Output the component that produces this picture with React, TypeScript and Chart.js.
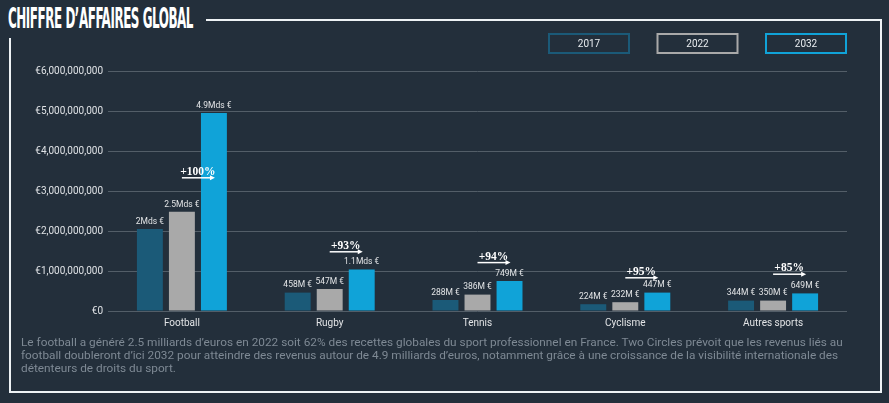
import React, { useEffect, useRef } from "react";
import { Chart, registerables } from "chart.js";

Chart.register(...registerables);

const categories = ["Football", "Rugby", "Tennis", "Cyclisme", "Autres sports"];
const years = ["2017", "2022", "2032"];
const values2017 = [2.05e9, 0.46e9, 0.275e9, 0.17e9, 0.26e9];
const values2022 = [2.48e9, 0.55e9, 0.41e9, 0.22e9, 0.26e9];
const values2032 = [4.95e9, 1.04e9, 0.75e9, 0.46e9, 0.44e9];
const labels2017 = ["2Mds €", "458M €", "288M €", "224M €", "344M €"];
const labels2022 = ["2.5Mds €", "547M €", "386M €", "232M €", "350M €"];
const labels2032 = ["4.9Mds €", "1.1Mds €", "749M €", "447M €", "649M €"];
const growthLabels = ["+100%", "+93%", "+94%", "+95%", "+85%"];
const growthLevels = [3.33e9, 1.48e9, 1.21e9, 0.83e9, 0.92e9];
const yTicks = [0, 1e9, 2e9, 3e9, 4e9, 5e9, 6e9];

const captionLines = [
  "Le football a généré 2.5 milliards d’euros en 2022 soit 62% des recettes globales du sport professionnel en France. Two Circles prévoit que les revenus liés au",
  "football doubleront d’ici 2032 pour atteindre des revenus autour de 4.9 milliards d’euros, notamment grâce à une croissance de la visibilité internationale des",
  "détenteurs de droits du sport.",
];

const BG = "#232f3b";
const COLORS = ["#1b5a78", "#a9a9a9", "#10a3d8"];

const dataLabelsPlugin = {
  id: "barValueLabels",
  afterDatasetsDraw(chart: any) {
    const ctx = chart.ctx;
    const allLabels = [labels2017, labels2022, labels2032];
    ctx.save();
    ctx.font = "8.5px Roboto";
    ctx.fillStyle = "#e2e4e6";
    ctx.textAlign = "center";
    ctx.textBaseline = "bottom";
    chart.data.datasets.forEach((_: any, di: number) => {
      const meta = chart.getDatasetMeta(di);
      meta.data.forEach((bar: any, i: number) => {
        ctx.fillText(allLabels[di][i], bar.x, bar.y - 3);
      });
    });
    const m1 = chart.getDatasetMeta(1);
    const m2 = chart.getDatasetMeta(2);
    const yScale = chart.scales.y;
    growthLabels.forEach((g, i) => {
      const x1 = m1.data[i].x;
      const x2 = m2.data[i].x;
      const y = yScale.getPixelForValue(growthLevels[i]);
      ctx.strokeStyle = "#ffffff";
      ctx.fillStyle = "#ffffff";
      ctx.lineWidth = 1.5;
      ctx.beginPath();
      ctx.moveTo(x1, y);
      ctx.lineTo(x2 - 3, y);
      ctx.stroke();
      ctx.beginPath();
      ctx.moveTo(x2 + 1, y);
      ctx.lineTo(x2 - 4, y - 2.5);
      ctx.lineTo(x2 - 4, y + 2.5);
      ctx.closePath();
      ctx.fill();
      ctx.font = "bold 11.5px 'Liberation Serif'";
      ctx.textAlign = "center";
      ctx.textBaseline = "alphabetic";
      ctx.fillText(g, (x1 + x2) / 2, y - 3);
    });
    ctx.restore();
  },
};

const legendPlugin = {
  id: "boxLegend",
  afterDraw(chart: any) {
    const ctx = chart.ctx;
    const right = chart.chartArea.right;
    const w = 82;
    const h = 21;
    const gap = 26.5;
    const n = chart.data.datasets.length;
    ctx.save();
    chart.data.datasets.forEach((ds: any, i: number) => {
      const x = right - (n - i) * w - (n - 1 - i) * gap;
      const y = 33;
      ctx.strokeStyle = ds.backgroundColor;
      ctx.lineWidth = 2;
      ctx.strokeRect(x + 1, y + 1, w - 2, h - 2);
      ctx.fillStyle = "#e8ecef";
      ctx.font = "10px Roboto";
      ctx.textAlign = "center";
      ctx.textBaseline = "middle";
      ctx.fillText(ds.label, x + w / 2, y + h / 2 + 0.5);
    });
    ctx.restore();
  },
};

export default function App() {
  const canvasRef = useRef<HTMLCanvasElement | null>(null);
  const titleRef = useRef<HTMLSpanElement | null>(null);
  const captionRef = useRef<HTMLDivElement | null>(null);

  useEffect(() => {
    if (titleRef.current) {
      const wdt = titleRef.current.offsetWidth;
      if (wdt > 0) titleRef.current.style.transform = `scaleX(${185 / wdt})`;
    }
    if (captionRef.current) {
      const first = captionRef.current.firstElementChild as HTMLElement | null;
      if (first) {
        const wdt = first.offsetWidth;
        if (wdt > 0) captionRef.current.style.transform = `scaleX(${822 / wdt})`;
      }
    }
    const canvas = canvasRef.current;
    if (!canvas) return;
    const chart = new Chart(canvas, {
      type: "bar",
      data: {
        labels: categories,
        datasets: [
          { label: years[0], data: values2017, backgroundColor: COLORS[0] },
          { label: years[1], data: values2022, backgroundColor: COLORS[1] },
          { label: years[2], data: values2032, backgroundColor: COLORS[2] },
        ].map((d) => ({ ...d, barPercentage: 0.81, categoryPercentage: 0.65, borderWidth: 0 })),
      },
      options: {
        responsive: false,
        animation: false,
        layout: { padding: { left: 0, top: 71, right: 42, bottom: 70 } },
        plugins: { legend: { display: false }, tooltip: { enabled: false }, title: { display: false } },
        scales: {
          x: {
            grid: { display: false, drawTicks: false },
            border: { display: false },
            ticks: { color: "#e2e4e6", font: { family: "Roboto", size: 10 }, padding: 6, maxRotation: 0 },
            afterFit: (s: any) => {
              s.height = 22;
            },
          },
          y: {
            min: 0,
            max: 6e9,
            afterBuildTicks: (s: any) => {
              s.ticks = yTicks.map((v) => ({ value: v }));
            },
            grid: { color: "#535e68", lineWidth: 1, drawTicks: false },
            border: { display: false },
            ticks: {
              color: "#dfe2e5",
              font: { family: "Roboto", size: 10 },
              padding: 5,
              callback: (v: any) => "€" + Number(v).toLocaleString("en-US"),
            },
            afterFit: (s: any) => {
              s.width = 108;
            },
          },
        },
      },
      plugins: [dataLabelsPlugin, legendPlugin],
    });
    return () => chart.destroy();
  }, []);

  const line = (style: React.CSSProperties) => (
    <div style={{ position: "absolute", background: "#eef2f5", ...style }} />
  );

  return (
    <div
      style={{
        position: "fixed",
        left: 0,
        top: 0,
        width: 889,
        height: 403,
        background: BG,
        overflow: "hidden",
      }}
    >
      <span
        ref={titleRef}
        style={{
          position: "absolute",
          left: 8,
          top: 2,
          fontFamily: "'DejaVu Sans Condensed', 'DejaVu Sans'",
          fontWeight: "bold",
          fontSize: 29,
          lineHeight: "32px",
          color: "#ffffff",
          whiteSpace: "nowrap",
          transformOrigin: "0 0",
          letterSpacing: "-1px",
        }}
      >
        CHIFFRE D’AFFAIRES GLOBAL
      </span>
      {line({ left: 206, top: 19, width: 676, height: 2 })}
      {line({ left: 880, top: 19, width: 2, height: 374 })}
      {line({ left: 9, top: 391, width: 873, height: 2 })}
      {line({ left: 9, top: 38, width: 2, height: 355 })}
      <canvas
        ref={canvasRef}
        width={889}
        height={403}
        style={{ position: "absolute", left: 0, top: 0, width: 889, height: 403 }}
      />
      <div
        ref={captionRef}
        style={{
          position: "absolute",
          left: 21,
          top: 336,
          fontFamily: "Roboto",
          fontSize: 11,
          lineHeight: "13px",
          color: "#7e8994",
          transformOrigin: "0 0",
        }}
      >
        {captionLines.map((t, i) => (
          <div key={i} style={{ whiteSpace: "nowrap", display: "table" }}>
            {t}
          </div>
        ))}
      </div>
    </div>
  );
}
